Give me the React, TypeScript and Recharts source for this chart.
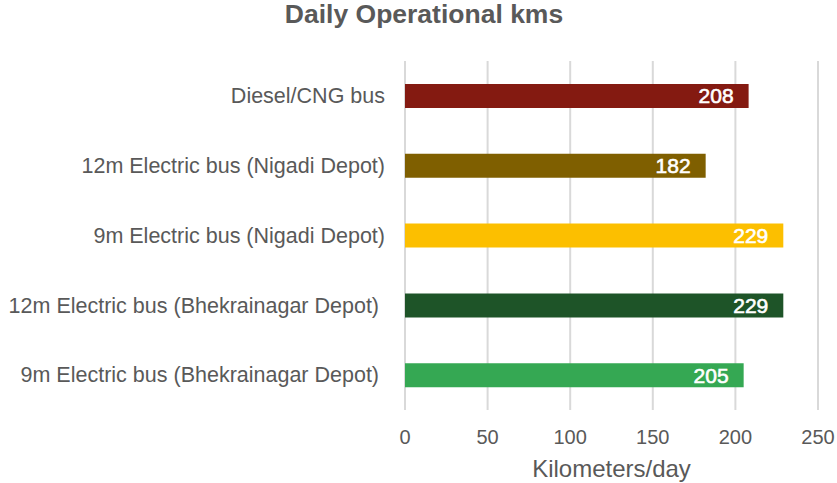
import React from 'react';
import { BarChart, Bar, XAxis, YAxis, CartesianGrid, Cell, LabelList } from 'recharts';

const categories = [
  'Diesel/CNG bus',
  '12m Electric bus (Nigadi Depot)',
  '9m Electric bus (Nigadi Depot)',
  '12m Electric bus (Bhekrainagar Depot) ',
  '9m Electric bus (Bhekrainagar Depot) ',
];
const values = [208, 182, 229, 229, 205];
const barColors = ['#841a11', '#7f5f00', '#fcbf00', '#1e5428', '#35a853'];
const xTicks = [0, 50, 100, 150, 200, 250];

const data = categories.map((name, i) => ({ name, value: values[i] }));

const FONT = '"Liberation Sans", Arial, Helvetica, sans-serif';
const TEXT = '#595959';

const CategoryTick = (props: any) => {
  const { x, y, payload } = props;
  return (
    <text
      x={x}
      y={y}
      dy="0.34em"
      textAnchor="end"
      fill={TEXT}
      fontSize={21.5}
      fontFamily={FONT}
      xmlSpace="preserve"
      style={{ whiteSpace: 'pre' }}
    >
      {payload.value}
    </text>
  );
};

export default function App() {
  return (
    <div style={{ position: 'absolute', left: 0, top: 0, width: 837, height: 483, background: '#fff' }}>
      <div
        style={{
          position: 'absolute',
          left: 0,
          top: 1,
          width: 848,
          textAlign: 'center',
          fontFamily: FONT,
          fontWeight: 'bold',
          fontSize: 26.5,
          lineHeight: '26.5px',
          color: TEXT,
        }}
      >
        Daily Operational kms
      </div>
      <BarChart
        width={837}
        height={483}
        data={data}
        layout="vertical"
        margin={{ top: 61, right: 19, bottom: 0, left: 0 }}
      >
        <CartesianGrid horizontal={false} stroke="#d9d9d9" strokeWidth={2} />
        <XAxis
          type="number"
          domain={[0, 250]}
          ticks={xTicks}
          axisLine={false}
          tickLine={false}
          tickSize={0}
          tickMargin={20}
          height={73}
          interval={0}
          tick={{ fill: TEXT, fontSize: 20, fontFamily: FONT }}
          label={{
            value: 'Kilometers/day',
            position: 'insideBottom',
            offset: 6,
            fill: TEXT,
            fontSize: 24,
            fontFamily: FONT,
          }}
        />
        <YAxis
          type="category"
          dataKey="name"
          width={405}
          axisLine={false}
          tickLine={false}
          tickSize={0}
          tickMargin={20}
          interval={0}
          tick={<CategoryTick />}
        />
        <Bar dataKey="value" barSize={24} isAnimationActive={false}>
          {data.map((d, i) => (
            <Cell key={d.name} fill={barColors[i]} />
          ))}
          <LabelList
            dataKey="value"
            position="insideRight"
            offset={15}
            fill="#ffffff"
            stroke="#ffffff"
            strokeWidth={0.6}
            fontSize={21}
            fontFamily={FONT}
          />
        </Bar>
      </BarChart>
    </div>
  );
}
